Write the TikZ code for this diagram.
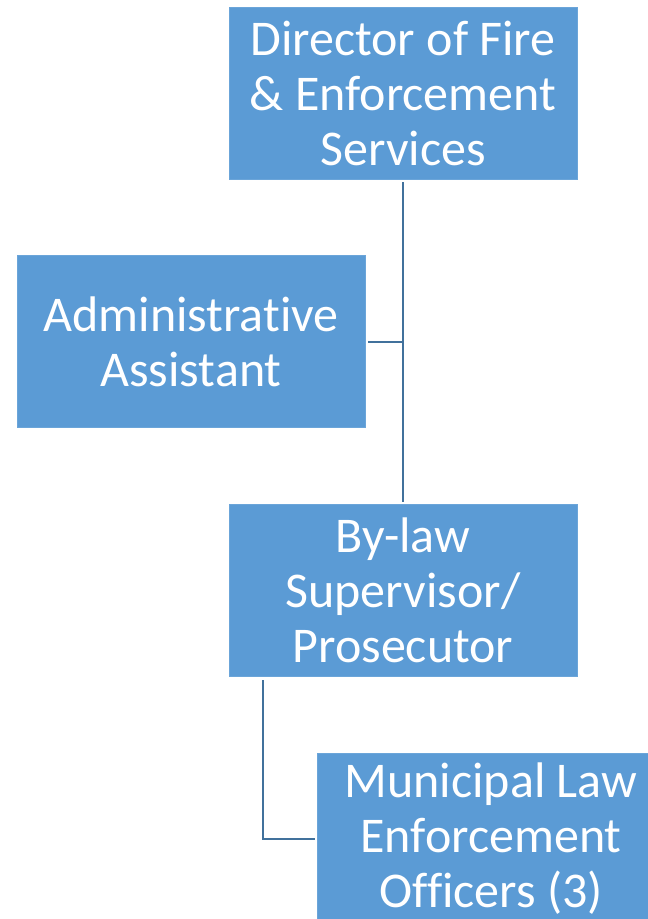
\documentclass[tikz,border=0pt]{standalone}
\usepackage{fontspec}
\setmainfont[Ligatures=NoCommon]{Carlito}
\definecolor{boxblue}{HTML}{5B9BD5}
\definecolor{lineblue}{HTML}{41719C}
\begin{document}
\begin{tikzpicture}[x=1pt, y=-1pt,
    rolebox/.style={fill=boxblue, draw=boxblue!90!white, line width=0.8pt, text=white,
      minimum width=348pt, minimum height=172pt, inner sep=0pt, align=center,
      font=\fontsize{50}{55}\selectfont},
    conn/.style={draw=lineblue, line width=2pt}]
      \useasboundingbox (0,0) rectangle (648,919);
      \clip (0,0) rectangle (648,919);

      % Director
      \node[rolebox] (dir) at (403,93) {Director of Fire\\\& Enforcement\\Services};

      % Administrative Assistant
      \node[rolebox] (admin) at (191,341.5) {Administrative\\Assistant};

      % By-law Supervisor
      \node[rolebox] (bylaw) at (403,590) {By-law\\Supervisor/\\Prosecutor};

      % Municipal Law Enforcement Officers
      \node[rolebox] (mleo) at (491,839) {Municipal Law\\Enforcement\\Officers (3)};

      % connectors
      \draw[conn, shorten <=3pt, shorten >=2pt] (dir) -- (bylaw);
      \draw[conn, shorten <=3pt] (admin.east) -- (admin.east -| dir.south);
      \draw[conn, shorten <=4pt, shorten >=2pt] ([xshift=34pt]bylaw.south west) |- (mleo.west);
    \end{tikzpicture}
\end{document}
